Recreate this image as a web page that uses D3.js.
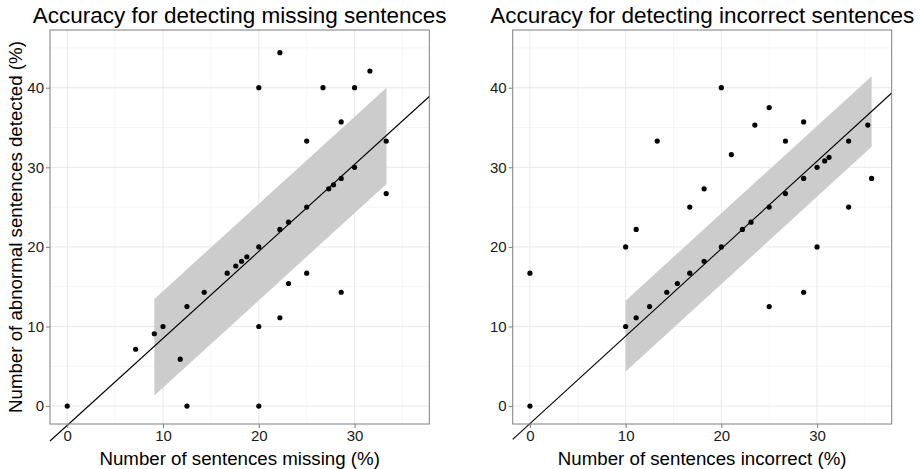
<!DOCTYPE html>
<html>
<head>
<meta charset="utf-8">
<script src="https://cdn.jsdelivr.net/npm/d3@7"></script>
<style>
  body { margin: 0; background: #fff; }
  text { font-family: "Liberation Sans", Arial, sans-serif; }
</style>
</head>
<body>
<div id="chart"></div>
<script>
// values
const missingX = [20, 22.2, 26.7, 30, 31.6, 28.6, 25, 33.3, 30, 28.6, 27.8, 27.3, 33.3, 25, 23.1, 22.2,
  20, 18.75, 18.2, 17.6, 16.7, 14.3, 12.5, 10, 9.09, 7.14, 11.8, 0, 12.5, 20, 20, 22.2, 23.1, 25, 28.6];
const missingY = [40, 44.4, 40, 40, 42.1, 35.7, 33.3, 33.3, 30, 28.6, 27.8, 27.3, 26.7, 25, 23.1, 22.2,
  20, 18.75, 18.2, 17.6, 16.7, 14.3, 12.5, 10, 9.09, 7.14, 5.9, 0, 0, 0, 10, 11.1, 15.4, 16.7, 14.3];

const incorrectX = [20, 13.3, 25, 23.5, 28.6, 35.3, 21.05, 26.7, 33.3, 30, 30.8, 31.25, 28.6, 35.7, 26.7,
  18.2, 16.7, 25, 33.3, 23.1, 22.2, 11.1, 20, 30, 10, 0, 18.2, 16.7, 15.4, 14.3, 12.5, 11.1, 10, 0, 25, 28.6];
const incorrectY = [40, 33.3, 37.5, 35.3, 35.7, 35.3, 31.6, 33.3, 33.3, 30, 30.8, 31.25, 28.6, 28.6, 26.7,
  27.3, 25, 25, 25, 23.1, 22.2, 22.2, 20, 20, 20, 16.7, 18.2, 16.7, 15.4, 14.3, 12.5, 11.1, 10, 0, 12.5, 14.3];

// fitted line (intercept, slope) and shaded band ends [x, low, high]
const missingFit = [-2.42, 1.093];
const incorrectFit = [-2.21, 1.099];
const missingBand = [[9.09, 1.33, 13.46], [33.33, 27.9, 40.0]];
const incorrectBand = [[10, 4.34, 13.25], [35.7, 32.57, 41.45]];

const xTicks = [0, 10, 20, 30];
const xMinor = [5, 15, 25, 35];
const yTicks = [0, 10, 20, 30, 40];
const yMinor = [5, 15, 25, 35, 45];

const titles = ["Accuracy for detecting missing sentences", "Accuracy for detecting incorrect sentences"];
const xLabels = ["Number of sentences missing (%)", "Number of sentences incorrect (%)"];
const yLabel = "Number of abnormal sentences detected (%)";

const width = 920;
const height = 469;
const panelTop = 30, panelBottom = 424;

const svg = d3.select("#chart")
  .append("svg")
  .attr("width", width)
  .attr("height", height);

function drawPanel(left, right, xs, ys, fit, band, title, xLabel) {
  const x = d3.scaleLinear().domain([-1.8, 37.8]).range([left, right]);
  const y = d3.scaleLinear().domain([-2.25, 47.25]).range([panelBottom, panelTop]);
  const g = svg.append("g");

  // grid
  g.selectAll(".xminor").data(xMinor).enter().append("line")
    .attr("x1", d => x(d)).attr("x2", d => x(d)).attr("y1", panelTop).attr("y2", panelBottom)
    .attr("stroke", "#f4f4f4").attr("stroke-width", 0.8);
  g.selectAll(".yminor").data(yMinor).enter().append("line")
    .attr("x1", left).attr("x2", right).attr("y1", d => y(d)).attr("y2", d => y(d))
    .attr("stroke", "#f4f4f4").attr("stroke-width", 0.8);
  g.selectAll(".xmajor").data(xTicks).enter().append("line")
    .attr("x1", d => x(d)).attr("x2", d => x(d)).attr("y1", panelTop).attr("y2", panelBottom)
    .attr("stroke", "#e6e6e6").attr("stroke-width", 0.9);
  g.selectAll(".ymajor").data(yTicks).enter().append("line")
    .attr("x1", left).attr("x2", right).attr("y1", d => y(d)).attr("y2", d => y(d))
    .attr("stroke", "#e6e6e6").attr("stroke-width", 0.9);

  // shaded band
  const area = d3.area()
    .x(d => x(d[0]))
    .y0(d => y(d[1]))
    .y1(d => y(d[2]));
  g.append("path").datum(band).attr("d", area).attr("fill", "#cccccc");

  // points
  g.selectAll("circle").data(xs).enter().append("circle")
    .attr("cx", d => x(d))
    .attr("cy", (d, i) => y(ys[i]))
    .attr("r", 2.6)
    .attr("fill", "#000");

  // fit line (spans the panel width, not clipped vertically)
  const x0 = x.domain()[0], x1 = x.domain()[1];
  g.append("line")
    .attr("x1", x(x0)).attr("y1", y(fit[0] + fit[1] * x0))
    .attr("x2", x(x1)).attr("y2", y(fit[0] + fit[1] * x1))
    .attr("stroke", "#000").attr("stroke-width", 1.1);

  // border
  g.append("rect")
    .attr("x", left).attr("y", panelTop).attr("width", right - left).attr("height", panelBottom - panelTop)
    .attr("fill", "none").attr("stroke", "#7f7f7f").attr("stroke-width", 1);

  // axes
  const xAxis = d3.axisBottom(x).tickValues(xTicks).tickSize(4).tickPadding(2);
  const yAxis = d3.axisLeft(y).tickValues(yTicks).tickSize(4).tickPadding(2);
  const gx = g.append("g").attr("transform", `translate(0,${panelBottom})`).call(xAxis);
  const gy = g.append("g").attr("transform", `translate(${left},0)`).call(yAxis);
  [gx, gy].forEach(a => {
    a.select(".domain").remove();
    a.selectAll(".tick line").attr("stroke", "#7f7f7f");
    a.selectAll(".tick text").attr("fill", "#1a1a1a").style("font-size", "15px");
  });

  g.append("text")
    .attr("x", (left + right) / 2).attr("y", 23)
    .attr("text-anchor", "middle")
    .style("font-size", "22.5px")
    .text(title);

  g.append("text")
    .attr("x", (left + right) / 2).attr("y", 465)
    .attr("text-anchor", "middle")
    .style("font-size", "18.7px")
    .text(xLabel);
}

drawPanel(50, 429.3, missingX, missingY, missingFit, missingBand, titles[0], xLabels[0]);
drawPanel(512.7, 891.7, incorrectX, incorrectY, incorrectFit, incorrectBand, titles[1], xLabels[1]);

svg.append("text")
  .attr("transform", "translate(22,413) rotate(-90)")
  .attr("text-anchor", "start")
  .style("font-size", "18.7px")
  .text(yLabel);
</script>
</body>
</html>
